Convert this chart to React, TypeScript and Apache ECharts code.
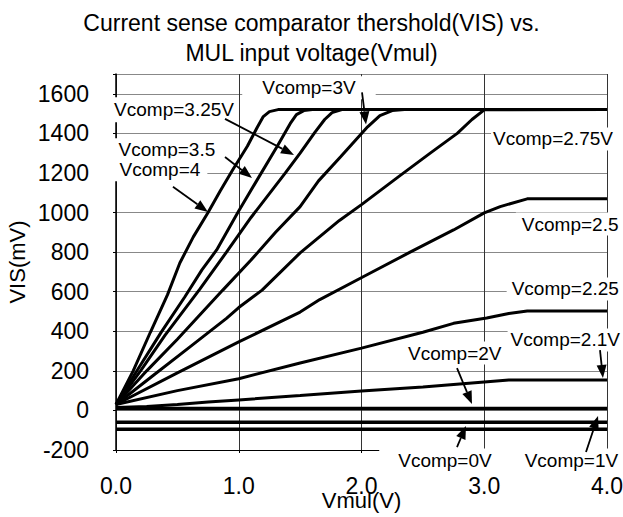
import React, { useEffect, useRef } from 'react';
import * as echarts from 'echarts';

// ---------- data ----------
const TITLE_LINES = ['Current sense comparator thershold(VIS) vs.', 'MUL input voltage(Vmul)'];
const X_NAME = 'Vmul(V)';
const Y_NAME = 'VIS(mV)';
const X_MIN = 0;
const X_MAX = 4;
const X_STEP = 1;
const Y_MIN = -200;
const Y_MAX = 1700;
const Y_STEP = 200;
const Y_LAST_LABEL = 1600;

const vcomp4: [number, number][] = [
  [0, 30], [0.14, 200], [0.28, 395], [0.42, 585], [0.52, 745], [0.63, 877], [0.75, 1000],
  [0.85, 1110], [0.95, 1215], [1.07, 1335], [1.15, 1430], [1.2, 1485], [1.25, 1510], [1.32, 1520], [4, 1520],
];
const vcomp35: [number, number][] = [
  [0, 30], [0.15, 180], [0.37, 397], [0.56, 573], [0.7, 710], [0.82, 811], [0.99, 998],
  [1.15, 1165], [1.31, 1331], [1.42, 1450], [1.47, 1495], [1.53, 1515], [1.6, 1520], [4, 1520],
];
const vcomp325: [number, number][] = [
  [0, 30], [0.2, 200], [0.4, 380], [0.68, 610], [0.9, 800], [1.1, 975], [1.38, 1200],
  [1.5, 1300], [1.62, 1405], [1.7, 1470], [1.76, 1505], [1.84, 1520], [4, 1520],
];
const vcomp3: [number, number][] = [
  [0, 30], [0.25, 200], [0.5, 360], [0.87, 608], [1.1, 760], [1.3, 900], [1.5, 1030],
  [1.65, 1160], [1.83, 1282], [2.05, 1433], [2.15, 1490], [2.25, 1515], [2.35, 1520], [4, 1520],
];
const vcomp275: [number, number][] = [
  [0, 30], [0.3, 175], [0.6, 320], [0.9, 465], [1.0, 520], [1.19, 608], [1.5, 796], [1.82, 960],
  [2.0, 1040], [2.3, 1180], [2.56, 1300], [2.78, 1400], [2.9, 1470], [3.0, 1519], [4, 1520],
];
const vcomp25: [number, number][] = [
  [0, 30], [0.5, 190], [1.0, 346], [1.5, 497], [1.66, 560], [2.01, 674], [2.4, 801],
  [2.75, 912], [3.0, 998], [3.13, 1030], [3.35, 1069], [4, 1070],
];
const vcomp225: [number, number][] = [
  [0, 30], [0.5, 100], [1.0, 160], [1.5, 240], [2.0, 315], [2.5, 395], [2.75, 440],
  [3.02, 467], [3.2, 490], [3.35, 502], [4, 502],
];
const vcomp21: [number, number][] = [
  [0, 15], [0.25, 20], [0.5, 30], [0.75, 42], [1.0, 53], [1.5, 75], [2.0, 98], [2.5, 118],
  [3.0, 144], [3.2, 154], [4, 154],
];
const vcomp2: [number, number][] = [[0, 10], [4, 10]];
const vcomp1: [number, number][] = [[0, -60], [4, -60]];
const vcomp0: [number, number][] = [[0, -95], [4, -95]];

const SERIES_NAMES = ['Vcomp=4', 'Vcomp=3.5', 'Vcomp=3.25V', 'Vcomp=3V', 'Vcomp=2.75V', 'Vcomp=2.5',
  'Vcomp=2.25', 'Vcomp=2.1V', 'Vcomp=2V', 'Vcomp=1V', 'Vcomp=0V'];
const SERIES_DATA = [vcomp4, vcomp35, vcomp325, vcomp3, vcomp275, vcomp25, vcomp225, vcomp21, vcomp2, vcomp1, vcomp0];

// annotation texts and their anchor points (data units)
const LABEL_TEXTS = ['Vcomp=3V', 'Vcomp=3.25V', 'Vcomp=3.5', 'Vcomp=4', 'Vcomp=2.75V', 'Vcomp=2.5',
  'Vcomp=2.25', 'Vcomp=2.1V', 'Vcomp=2V', 'Vcomp=0V', 'Vcomp=1V'];
const LABEL_AT: [number, number][] = [
  [1.572, 1630], [0.473, 1519], [0.415, 1317], [0.358, 1216], [3.56, 1372], [3.70, 942],
  [3.66, 614], [3.66, 356], [2.76, 290], [2.68, -251], [3.71, -251],
];
// arrows: [from, to] in data units
const ARROW_FROM: [number, number][] = [
  [2.004, 1607], [0.888, 1473], [0.888, 1281], [0.464, 1130], [3.943, 305], [2.778, 214], [2.778, -185], [3.829, -210],
];
const ARROW_TO: [number, number][] = [
  [2.037, 1445], [1.45, 1291], [1.108, 1175], [0.749, 1003], [3.967, 164], [2.9, 32], [2.851, -79], [3.927, -28],
];

// ---------- styles ----------
const FONT = '"Liberation Sans", Arial, Helvetica, sans-serif';
const LABEL_PADDING: number[][] = [
  [2, 20], [3, 4], [2, 4], [2, 7], [2, 2], [2, 6], [2, 5], [2, 3], [2, 4], [2, 19], [2, 18],
];

export default function App() {
  const ref = useRef<HTMLDivElement>(null);

  useEffect(() => {
    document.body.style.margin = '0';
    if (!ref.current) return;
    const chart = echarts.init(ref.current, undefined, { renderer: 'svg' });

    const series = SERIES_DATA.map((d, i) => ({
      name: SERIES_NAMES[i],
      type: 'line',
      data: d,
      symbol: 'none',
      smooth: false,
      silent: true,
      lineStyle: { color: '#000', width: i >= 8 ? 3.5 : 3 },
      z: 3,
    }));

    chart.setOption({
      animation: false,
      backgroundColor: '#fff',
      title: {
        text: TITLE_LINES.join('\n'),
        left: 'center',
        top: 3,
        textStyle: { fontFamily: FONT, fontSize: 23, fontWeight: 'normal', color: '#000', lineHeight: 30 },
      },
      grid: { left: 116, right: 16, top: 74, bottom: 67, containLabel: false, outerBoundsMode: 'none' },
      xAxis: {
        type: 'value',
        min: X_MIN,
        max: X_MAX,
        interval: X_STEP,
        name: X_NAME,
        nameLocation: 'middle',
        nameGap: 39,
        nameMoveOverlap: false,
        nameTextStyle: { fontFamily: FONT, fontSize: 22, color: '#000' },
        axisLine: { show: true, onZero: false, lineStyle: { color: '#000', width: 1 } },
        axisTick: { show: true, length: 3, lineStyle: { color: '#000' } },
        axisLabel: {
          margin: 24,
          fontFamily: FONT,
          fontSize: 23,
          color: '#000',
          formatter: (v: number) => v.toFixed(1),
        },
        splitLine: { show: true, lineStyle: { color: '#333', width: 1 } },
      },
      yAxis: {
        type: 'value',
        min: Y_MIN,
        max: Y_MAX,
        interval: Y_STEP,
        name: Y_NAME,
        nameLocation: 'middle',
        nameGap: 88,
        nameMoveOverlap: false,
        nameTextStyle: { fontFamily: FONT, fontSize: 22, color: '#000' },
        axisLine: { show: true, onZero: false, lineStyle: { color: '#000', width: 1.5 } },
        axisTick: { show: true, length: 3, lineStyle: { color: '#000' } },
        axisLabel: {
          margin: 27,
          fontFamily: FONT,
          fontSize: 23,
          color: '#000',
          formatter: (v: number) => (v > Y_LAST_LABEL ? '' : String(v)),
        },
        splitLine: { show: true, lineStyle: { color: '#888', width: 1 } },
      },
      series,
    });

    const toPx = (p: [number, number]) => chart.convertToPixel({ gridIndex: 0 } as any, p) as number[];

    const graphics: any[] = [];
    LABEL_TEXTS.forEach((t, i) => {
      const p = toPx(LABEL_AT[i]);
      graphics.push({
        type: 'text',
        x: p[0],
        y: p[1],
        z: 100,
        silent: true,
        style: {
          text: t,
          font: `19px ${FONT}`,
          fill: '#000',
          align: 'center',
          verticalAlign: 'middle',
          backgroundColor: '#fff',
          padding: LABEL_PADDING[i],
        },
      });
    });
    ARROW_FROM.forEach((f, i) => {
      const a = toPx(f);
      const b = toPx(ARROW_TO[i]);
      const dx = b[0] - a[0];
      const dy = b[1] - a[1];
      const len = Math.sqrt(dx * dx + dy * dy) || 1;
      const ux = dx / len;
      const uy = dy / len;
      const L = 13;
      const W = 5;
      const bx = b[0] - ux * L;
      const by = b[1] - uy * L;
      graphics.push({
        type: 'line',
        z: 101,
        silent: true,
        shape: { x1: a[0], y1: a[1], x2: bx, y2: by },
        style: { stroke: '#000', lineWidth: 1.8 },
      });
      graphics.push({
        type: 'polygon',
        z: 101,
        silent: true,
        shape: {
          points: [
            [b[0], b[1]],
            [bx - uy * W, by + ux * W],
            [bx + uy * W, by - ux * W],
          ],
        },
        style: { fill: '#000' },
      });
    });
    chart.setOption({ graphic: graphics });

    return () => chart.dispose();
  }, []);

  return <div ref={ref} style={{ width: 623, height: 517 }} />;
}
